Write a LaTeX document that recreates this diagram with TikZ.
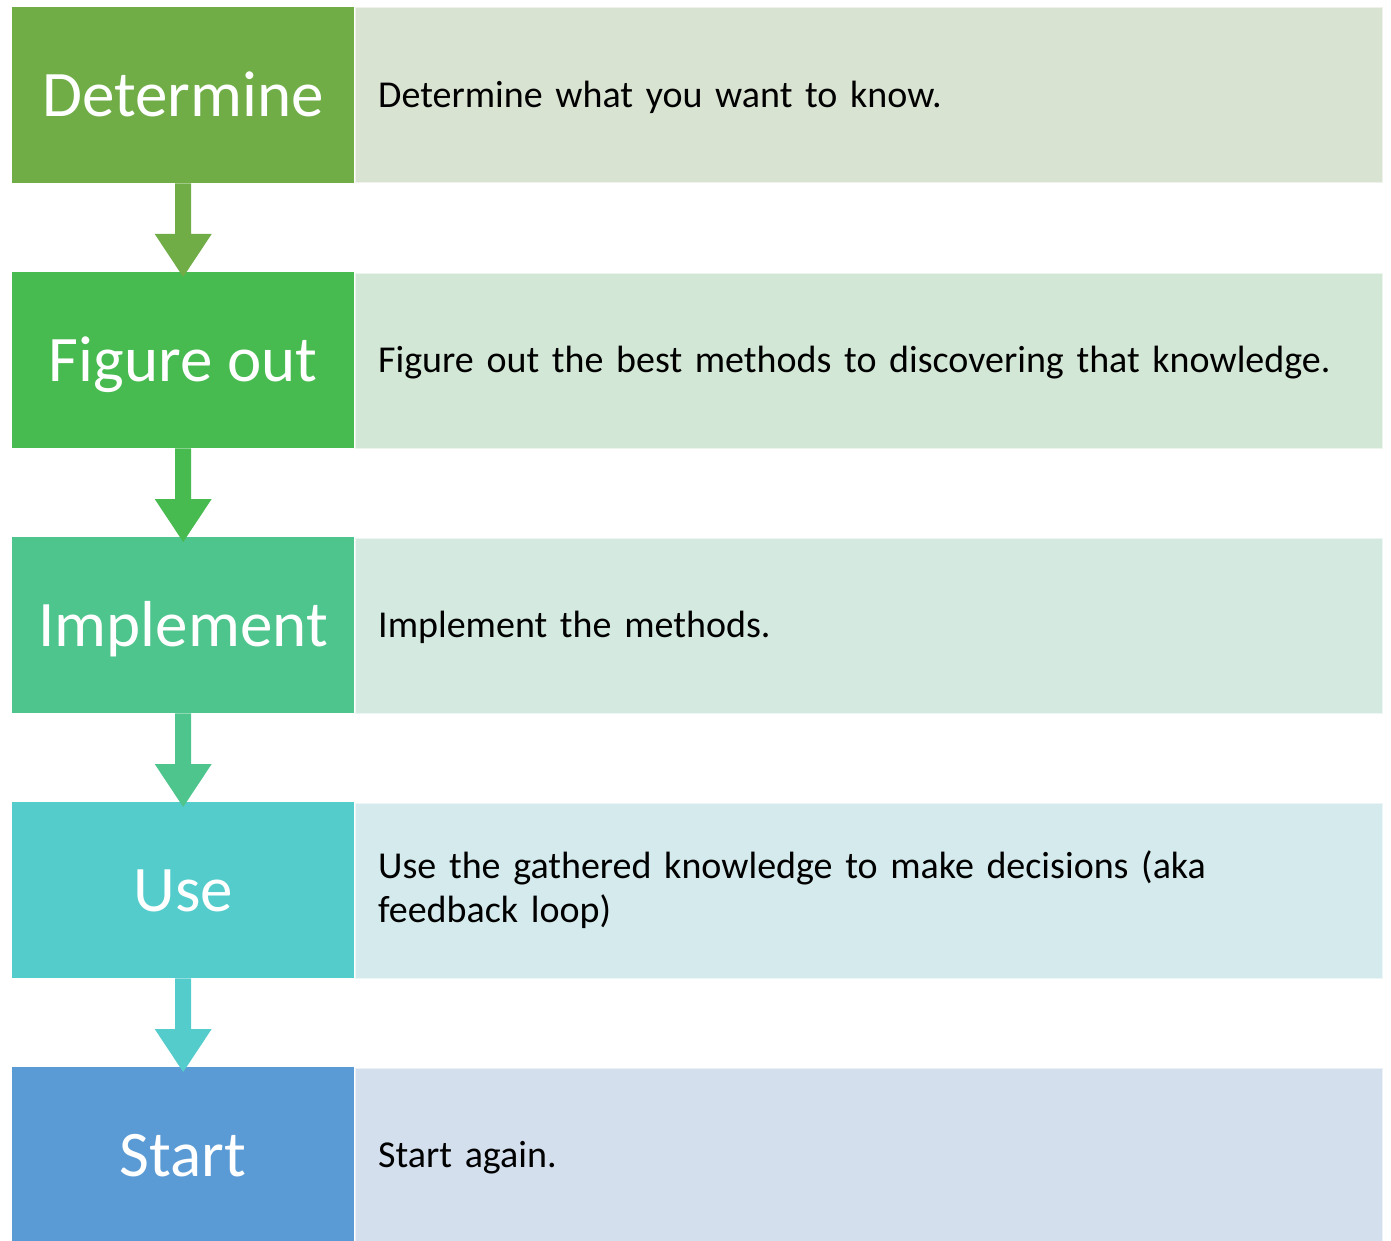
\documentclass[tikz,border=0pt]{standalone}
\usepackage{fontspec}
\setmainfont{Carlito}
\usetikzlibrary{calc}
\definecolor{c1}{RGB}{112,173,71}
\definecolor{c2}{RGB}{71,186,80}
\definecolor{c3}{RGB}{78,197,140}
\definecolor{c4}{RGB}{85,204,204}
\definecolor{c5}{RGB}{91,155,213}
\definecolor{l1}{RGB}{217,227,210}
\definecolor{l2}{RGB}{211,231,214}
\definecolor{l3}{RGB}{212,234,225}
\definecolor{l4}{RGB}{213,234,236}
\definecolor{l5}{RGB}{212,223,238}
\tikzset{
  stepbox/.style={fill=#1, draw=none, minimum width=342pt, minimum height=176pt,
    inner sep=0pt, anchor=north west, text=white, font=\fontsize{65}{78}\selectfont,
    text height=42pt, text depth=0pt},
  descbox/.style={fill=#1, draw=white!55!#1, line width=1pt, minimum width=1027pt, minimum height=175pt,
    inner sep=0pt, anchor=north west},
  desctext/.style={anchor=base west, inner sep=0pt, text width=990pt, align=left,
    font=\fontsize{38}{44}\selectfont, text=black},
}
\newcommand{\flowarrow}[3]{%
  \fill[#1] ($(#2.south)+(-8,0)$) -- ($(#3.north)+(-8,38)$) -- ($(#3.north)+(-28.5,38)$)
    -- ($(#3.north)+(0,-5)$) -- ($(#3.north)+(28.5,38)$) -- ($(#3.north)+(8,38)$)
    -- ($(#2.south)+(8,0)$) -- cycle;}
\begin{document}
\begin{tikzpicture}[x=1pt,y=1pt]
\useasboundingbox (0,0) rectangle (1391,-1241);
% left step boxes
\node[stepbox=c1] (s1) at (12,-7) {Determine};
\node[stepbox=c2] (s2) at (12,-272) {Figure out};
\node[stepbox=c3] (s3) at (12,-537) {Implement};
\node[stepbox=c4] (s4) at (12,-802) {Use};
\node[stepbox=c5] (s5) at (12,-1067) {Start};
% right description boxes
\node[descbox=l1] (d1) at (355,-7.5) {};
\node[descbox=l2] (d2) at (355,-272.5) {};
\node[descbox=l3] (d3) at (355,-537.5) {};
\node[descbox=l4] (d4) at (355,-802.5) {};
\node[descbox=l5] (d5) at (355,-1067.5) {};
% description texts
\node[desctext] (t1) at ($(d1.west)+(23,-12)$) {Determine what you want to know.};
\node[desctext] (t2) at ($(d2.west)+(23,-12)$) {Figure out the best methods to discovering that knowledge.};
\node[desctext] (t3) at ($(d3.west)+(23,-12)$) {Implement the methods.};
\node[desctext] (t4) at ($(d4.west)+(23,12)$) {Use the gathered knowledge to make decisions (aka\\feedback loop)};
\node[desctext] (t5) at ($(d5.west)+(23,-12)$) {Start again.};
% arrows
\flowarrow{c1}{s1}{s2}
\flowarrow{c2}{s2}{s3}
\flowarrow{c3}{s3}{s4}
\flowarrow{c4}{s4}{s5}
\end{tikzpicture}
\end{document}
